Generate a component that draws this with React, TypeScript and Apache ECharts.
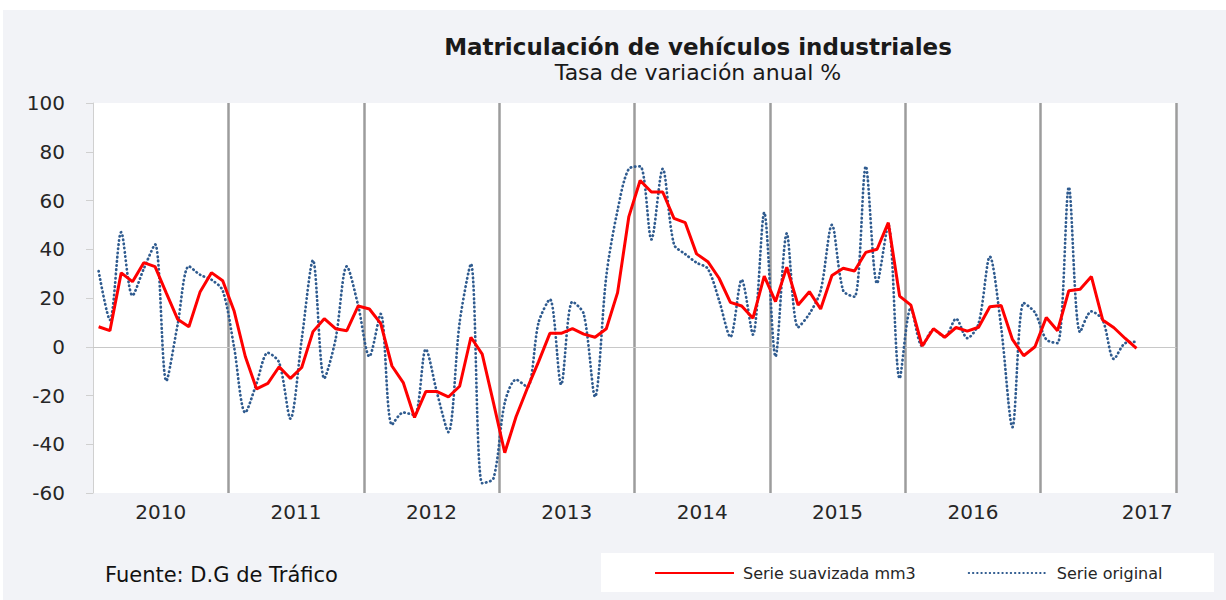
import React, { useEffect, useRef } from 'react';
import * as echarts from 'echarts';

const years = ['2010', '2011', '2012', '2013', '2014', '2015', '2016', '2017'];
const monthNames = ['ene', 'feb', 'mar', 'abr', 'may', 'jun', 'jul', 'ago', 'sep', 'oct', 'nov', 'dic'];
const categories = years.flatMap((y) => monthNames.map((m) => `${m} ${y}`));

const serieSuavizada = [
  8.2, 6.6, 30.3, 26.7, 34.5, 32.9, 22, 11.3, 8.2, 22.6, 30.4, 27.1,
  14.8, -4, -17.3, -15, -8.2, -13, -8.5, 6.2, 11.5, 7.4, 6.6, 16.7,
  15.5, 9.6, -7.9, -14.7, -29, -18.4, -18.4, -20.6, -16.2, 3.9, -3, -23,
  -43.5, -28.7, -17, -6.1, 5.5, 5.5, 7.4, 5.2, 3.9, 7.4, 22.2, 53.4,
  68.2, 63.5, 63.5, 52.7, 50.9, 38.1, 34.9, 28.1, 18.2, 16.7, 11.7, 29,
  18.5, 32.6, 17.1, 22.6, 15.5, 29.2, 32.2, 31.1, 38.7, 40, 50.9, 20.8,
  17.1, 0.3, 7.4, 3.9, 7.9, 6.4, 8, 16.4, 16.9, 3, -3.7, 0,
  12, 6.6, 23, 23.6, 28.8, 11, 7.8, 3.4, -0.7,
];

const serieOriginal = [
  31, 11, 47, 21, 32, 42, -14, 9, 33, 29.5, 27.5, 23,
  0, -27, -15, -2.5, -6.5, -29.5, 3, 35.5, -13, 3, 33, 17,
  -4, 13.5, -32, -27, -28, -1, -19, -35, 10, 34, -56, -54,
  -23, -13.5, -16.5, 10, 19.5, -15.5, 18.5, 13.5, -20.5, 29, 56, 73,
  74, 44, 73, 42, 38, 34.5, 32, 19, 4, 27.5, 5, 55,
  -4, 46.5, 8, 13.5, 23, 50, 23, 20.5, 74, 26, 50, -13,
  16, 0.3, 7, 4, 11.5, 3.5, 9.5, 37, 8, -33, 18, 14,
  3, 1.5, 65.5, 6, 14.5, 11, -5, 1.5, 2,
];

const yMin = -60;
const yMax = 100;
const yInterval = 20;

const titleText = 'Matriculación de vehículos industriales';
const subtitleText = 'Tasa de variación anual %';
const sourceText = 'Fuente: D.G de Tráfico';
const legendNames = ['Serie suavizada mm3', 'Serie original'];

const FONT = 'DejaVu Sans';
const TEXT_COLOR = '#262626';
const BLUE = '#2f5b8f';

export default function App() {
  const ref = useRef<HTMLDivElement>(null);

  useEffect(() => {
    if (!ref.current) return;
    const chart = echarts.init(ref.current, undefined, { renderer: 'svg' });
    chart.setOption({
      animation: false,
      textStyle: { fontFamily: FONT },
      grid: {
        left: 93,
        right: 50,
        top: 103,
        bottom: 107,
        show: true,
        backgroundColor: '#ffffff',
        borderWidth: 0,
      },
      graphic: [
        {
          type: 'text',
          x: 698,
          y: 47,
          style: {
            text: titleText,
            fontFamily: FONT,
            fontSize: 23,
            fontWeight: 'bold',
            fill: '#1a1a1a',
            align: 'center',
            verticalAlign: 'middle',
          },
        },
        {
          type: 'text',
          x: 698,
          y: 72,
          style: {
            text: subtitleText,
            fontFamily: FONT,
            fontSize: 22,
            fill: '#1a1a1a',
            align: 'center',
            verticalAlign: 'middle',
          },
        },
        {
          type: 'text',
          x: 105,
          y: 575,
          style: {
            text: sourceText,
            fontFamily: FONT,
            fontSize: 21,
            fill: '#111111',
            align: 'left',
            verticalAlign: 'middle',
          },
        },
      ],
      legend: {
        data: legendNames,
        left: 654,
        top: 565,
        padding: 0,
        itemWidth: 79,
        itemHeight: 14,
        itemGap: 52,
        itemStyle: { opacity: 0 },
        textStyle: { fontSize: 16, color: TEXT_COLOR, fontFamily: FONT, padding: [0, 0, 0, 4] },
      },
      xAxis: [
        {
          type: 'category',
          data: categories,
          boundaryGap: true,
          axisLine: { show: true, onZero: true, lineStyle: { color: '#c8c8c8', width: 1 } },
          axisTick: { show: false },
          axisLabel: { show: false },
          splitLine: { show: false },
        },
        {
          type: 'category',
          data: years,
          boundaryGap: true,
          position: 'bottom',
          axisLine: { show: false },
          axisTick: { show: false },
          axisLabel: {
            interval: 0,
            fontSize: 20,
            color: TEXT_COLOR,
            margin: 9,
            fontFamily: FONT,
            formatter: (v: string) => (v === '2017' ? `{shift|${v}}` : v),
            rich: {
              shift: { padding: [0, 0, 0, 78], fontSize: 20, color: TEXT_COLOR, fontFamily: FONT },
            },
          },
          splitLine: {
            show: true,
            interval: 0,
            showMinLine: false,
            lineStyle: { color: '#9c9c9c', width: 2.5 },
          },
        },
      ],
      yAxis: {
        type: 'value',
        min: yMin,
        max: yMax,
        interval: yInterval,
        axisLine: { show: true, lineStyle: { color: '#d0d0d0', width: 1 } },
        axisTick: { show: true, length: 7, lineStyle: { color: '#d0d0d0' } },
        axisLabel: { margin: 28, fontSize: 20, color: TEXT_COLOR, fontFamily: FONT },
        splitLine: { show: false },
      },
      series: [
        {
          name: legendNames[0],
          type: 'line',
          xAxisIndex: 0,
          data: serieSuavizada,
          symbol: 'none',
          z: 4,
          itemStyle: { color: '#ff0000' },
          lineStyle: { color: '#ff0000', width: 3 },
        },
        {
          name: legendNames[1],
          type: 'line',
          xAxisIndex: 0,
          data: serieOriginal,
          symbol: 'none',
          smooth: 0.3,
          z: 3,
          itemStyle: { color: BLUE },
          lineStyle: { color: BLUE, width: 2.7, type: [0.4, 3.8], cap: 'round' },
        },
      ],
    });
    return () => chart.dispose();
  }, []);

  return (
    <div style={{ position: 'fixed', left: 0, top: 0, width: 1226, height: 600, background: '#ffffff' }}>
      <div style={{ position: 'absolute', left: 3, top: 10, width: 1223, height: 590, background: '#f2f3f7' }} />
      <div style={{ position: 'absolute', left: 601, top: 553, width: 613, height: 39, background: '#ffffff' }} />
      <div ref={ref} style={{ position: 'absolute', left: 0, top: 0, width: 1226, height: 600 }} />
    </div>
  );
}
